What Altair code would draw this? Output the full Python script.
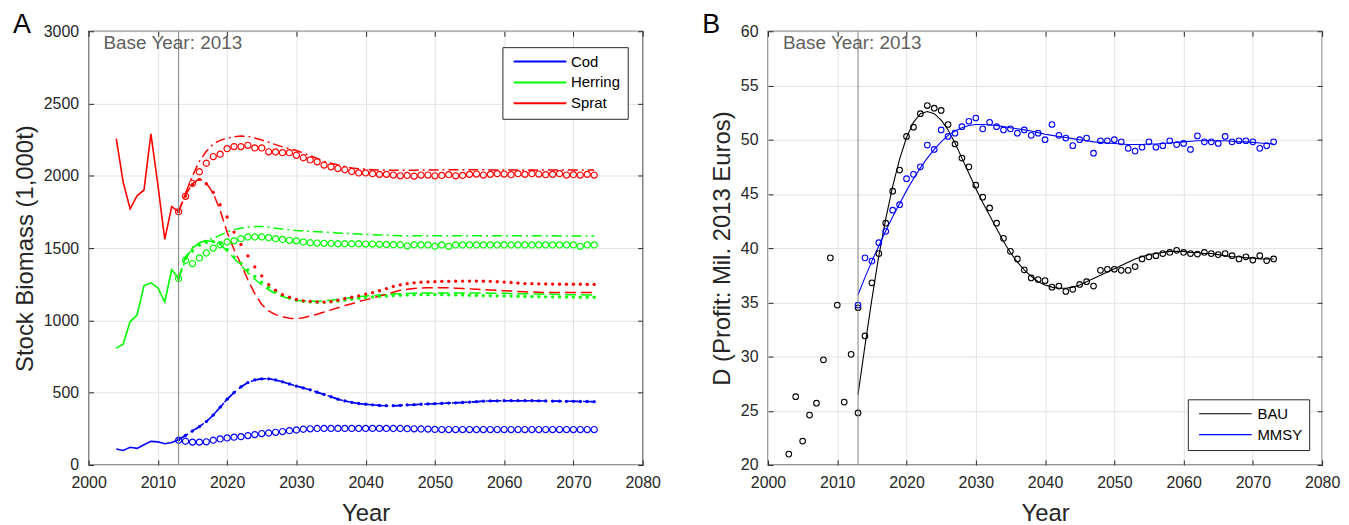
import altair as alt
import pandas as pd

FONT = "Liberation Sans"
W, H = 557, 436
AX = "#262626"
GRID = "#e2e2e2"

# ---------------- Panel A data ----------------
species_names = ["Cod", "Herring", "Sprat"]
species_colors = ["#0000ff", "#00ff00", "#ff0000"]

years_hist = list(range(2004, 2014))
cod_hist = [110, 100, 122, 115, 140, 163, 160, 147, 155, 175]
herring_hist = [808, 836, 992, 1037, 1239, 1260, 1226, 1129, 1351, 1290]
sprat_hist = [2257, 1955, 1771, 1862, 1902, 2290, 1940, 1560, 1787, 1752]

years_proj = list(range(2013, 2074))

sprat_circ = [1752, 1858, 1948, 2028, 2087, 2133, 2150, 2188, 2202, 2202,
              2211, 2193, 2193, 2166, 2165, 2160, 2160, 2142, 2125, 2110,
              2097, 2074, 2062, 2050, 2042, 2030, 2020, 2020, 2015, 2010,
              2010, 2005, 2000, 2003, 1998, 2005, 2005, 2000, 2003, 2008,
              2000, 2003, 2010, 2012, 2005, 2010, 2015, 2012, 2008, 2015,
              2010, 2015, 2012, 2008, 2010, 2015, 2005, 2008, 2005, 2010, 2005]
sprat_dashdot = [1752, 1880, 2000, 2100, 2170, 2220, 2245, 2260, 2270, 2275,
                 2272, 2262, 2248, 2232, 2216, 2200, 2188, 2175, 2158, 2140,
                 2120, 2100, 2087, 2075, 2064, 2055, 2049, 2045, 2042, 2040,
                 2039, 2038, 2038, 2038, 2039, 2040, 2040, 2041, 2041, 2042,
                 2042, 2042, 2042, 2042, 2042, 2041, 2041, 2041, 2040, 2040,
                 2040, 2040, 2040, 2040, 2040, 2040, 2040, 2040, 2040, 2040, 2040]
sprat_dash = [1752, 1870, 1945, 1980, 1950, 1880, 1760, 1610, 1490, 1390,
              1280, 1185, 1110, 1065, 1040, 1025, 1015, 1012, 1018, 1030,
              1042, 1058, 1073, 1088, 1103, 1115, 1130, 1142, 1155, 1168,
              1180, 1195, 1208, 1215, 1220, 1224, 1225, 1226, 1226, 1225,
              1223, 1220, 1218, 1215, 1213, 1210, 1208, 1205, 1203, 1200,
              1198, 1196, 1195, 1193, 1193, 1193, 1193, 1193, 1193, 1193, 1193]
sprat_dot = [1752, 1860, 1940, 1975, 1945, 1886, 1800, 1715, 1611, 1525,
             1446, 1370, 1308, 1248, 1209, 1178, 1160, 1145, 1135, 1132,
             1128, 1127, 1130, 1140, 1150, 1160, 1170, 1182, 1192, 1205,
             1220, 1235, 1246, 1254, 1260, 1264, 1266, 1268, 1270, 1270,
             1271, 1272, 1272, 1272, 1271, 1270, 1268, 1265, 1262, 1258,
             1255, 1254, 1253, 1252, 1251, 1250, 1250, 1250, 1250, 1249, 1249]

herring_circ = [1290, 1416, 1393, 1432, 1466, 1500, 1523, 1542, 1550, 1565,
                1577, 1577, 1577, 1572, 1565, 1560, 1554, 1550, 1542, 1537,
                1535, 1533, 1532, 1530, 1530, 1530, 1530, 1528, 1528, 1526,
                1525, 1524, 1523, 1516, 1523, 1522, 1522, 1513, 1522, 1512,
                1522, 1522, 1522, 1522, 1522, 1522, 1522, 1522, 1522, 1522,
                1522, 1522, 1522, 1522, 1522, 1522, 1522, 1522, 1512, 1522, 1522]
herring_dashdot = [1290, 1420, 1507, 1535, 1555, 1568, 1590, 1611, 1628, 1638,
                   1645, 1649, 1649, 1645, 1638, 1632, 1627, 1622, 1619, 1616,
                   1613, 1611, 1608, 1605, 1602, 1600, 1597, 1595, 1593, 1591,
                   1589, 1587, 1586, 1585, 1585, 1585, 1585, 1585, 1585, 1585,
                   1585, 1585, 1585, 1585, 1585, 1585, 1585, 1585, 1585, 1585,
                   1585, 1585, 1585, 1585, 1585, 1584, 1584, 1584, 1584, 1584, 1584]
herring_dash = [1290, 1440, 1500, 1535, 1550, 1545, 1525, 1480, 1430, 1380,
                1330, 1285, 1245, 1212, 1185, 1165, 1150, 1140, 1135, 1133,
                1133, 1135, 1140, 1146, 1152, 1158, 1163, 1168, 1172, 1176,
                1179, 1182, 1184, 1186, 1188, 1189, 1190, 1190, 1190, 1190,
                1190, 1190, 1190, 1189, 1189, 1188, 1188, 1187, 1186, 1185,
                1184, 1183, 1182, 1181, 1180, 1179, 1178, 1178, 1177, 1176, 1176]
herring_dot = [1290, 1430, 1480, 1520, 1540, 1545, 1530, 1490, 1440, 1395,
               1350, 1305, 1265, 1230, 1200, 1175, 1155, 1140, 1132, 1127,
               1125, 1125, 1128, 1133, 1140, 1147, 1153, 1158, 1162, 1166,
               1169, 1172, 1174, 1176, 1177, 1178, 1178, 1178, 1178, 1177,
               1176, 1175, 1174, 1173, 1172, 1171, 1170, 1169, 1168, 1167,
               1166, 1165, 1164, 1163, 1162, 1162, 1161, 1161, 1160, 1160, 1160]

cod_circ = [171, 164, 158, 158, 160, 171, 180, 187, 192, 196,
            203, 210, 217, 221, 226, 231, 237, 242, 247, 250,
            252, 253, 253, 253, 253, 253, 253, 253, 253, 253,
            253, 252, 252, 251, 250, 249, 248, 246, 245, 245,
            245, 245, 245, 245, 245, 245, 245, 245, 245, 245,
            245, 245, 245, 245, 245, 245, 245, 245, 245, 245, 245]
cod_proj = [176, 205, 235, 265, 300, 345, 400, 455, 500, 540,
            570, 588, 596, 596, 588, 575, 560, 546, 533, 520,
            503, 488, 472, 455, 443, 433, 425, 420, 416, 412,
            410, 410, 412, 415, 417, 420, 422, 424, 426, 428,
            430, 432, 435, 438, 441, 443, 444, 445, 445, 445,
            445, 445, 444, 443, 442, 441, 440, 440, 439, 439, 438]

# ---------------- Panel B data ----------------
scen_names = ["BAU", "MMSY"]
scen_colors = ["#000000", "#0000ff"]

years_bau_hist = list(range(2003, 2014))
bau_hist = [21.0, 26.3, 22.2, 24.6, 25.7, 29.7, 39.1, 34.75, 25.8, 30.2, 24.8]
bau_circ = [34.5, 31.9, 36.8, 39.5, 42.3, 45.25, 47.2, 50.3, 51.15, 52.4,
            53.15, 52.9, 52.7, 51.4, 49.6, 48.3, 47.5, 45.8, 44.7, 43.7,
            42.3, 40.9, 39.7, 39.0, 38.0, 37.25, 37.1, 37.0, 36.4, 36.5,
            36.0, 36.2, 36.65, 36.9, 36.5, 37.95, 38.05, 38.05, 37.95, 37.95,
            38.3, 39.0, 39.2, 39.3, 39.5, 39.6, 39.8, 39.6, 39.5, 39.45,
            39.6, 39.5, 39.4, 39.5, 39.3, 39.0, 39.2, 38.9, 39.3, 38.85, 39.0]
mmsy_circ = [34.75, 39.1, 38.8, 40.5, 41.55, 43.5, 44.0, 46.4, 46.8, 47.5,
             49.5, 49.1, 50.9, 50.3, 50.6, 51.2, 51.7, 52.0, 51.0, 51.6,
             51.2, 50.9, 51.0, 50.6, 50.9, 50.4, 50.6, 50.0, 51.4, 50.4,
             50.15, 49.45, 50.0, 50.15, 48.75, 49.9, 49.9, 50.0, 49.8, 49.2,
             48.95, 49.3, 49.8, 49.3, 49.45, 49.9, 49.55, 49.65, 49.1, 50.35,
             49.8, 49.8, 49.65, 50.3, 49.8, 49.9, 49.9, 49.8, 49.2, 49.45, 49.8]
bau_line = [26.5, 31.0, 35.3, 39.3, 42.7, 45.7, 48.2, 50.2, 51.6, 52.4,
            52.6, 52.4, 51.8, 50.9, 49.7, 48.3, 46.9, 45.5, 44.2, 43.0,
            41.8, 40.6, 39.6, 38.7, 38.0, 37.4, 36.9, 36.6, 36.4, 36.3,
            36.3, 36.4, 36.6, 36.9, 37.2, 37.5, 37.8, 38.1, 38.4, 38.7,
            39.0, 39.2, 39.4, 39.5, 39.6, 39.7, 39.7, 39.7, 39.6, 39.6,
            39.5, 39.5, 39.4, 39.3, 39.2, 39.2, 39.1, 39.1, 39.0, 39.0, 39.0]
mmsy_line = [35.7, 37.3, 38.8, 40.2, 41.6, 42.9, 44.1, 45.3, 46.4, 47.4,
             48.3, 49.1, 49.8, 50.4, 50.8, 51.1, 51.3, 51.4, 51.4, 51.35,
             51.3, 51.2, 51.1, 51.0, 50.9, 50.8, 50.65, 50.5, 50.4, 50.3,
             50.2, 50.1, 50.0, 49.9, 49.8, 49.75, 49.7, 49.65, 49.6, 49.55,
             49.55, 49.55, 49.6, 49.6, 49.65, 49.7, 49.75, 49.8, 49.85, 49.9,
             49.9, 49.9, 49.9, 49.9, 49.85, 49.8, 49.8, 49.75, 49.7, 49.65, 49.6]

x_ticks = list(range(2000, 2081, 10))
ya_ticks = list(range(0, 3001, 500))
yb_ticks = list(range(20, 61, 5))
base_year = 2013
base_label = "Base Year: 2013"


def series(years, values, name, key):
    if len(years) != len(values):
        raise ValueError(f"length mismatch for {name}")
    return pd.DataFrame({"year": years, "value": values, key: name})


def xenc(axis=None):
    return alt.X("year:Q", scale=alt.Scale(domain=[2000, 2080], nice=False, zero=False), axis=axis)


def yenc(domain, axis=None):
    return alt.Y("value:Q", scale=alt.Scale(domain=domain, nice=False, zero=False), axis=axis)


def main_x_axis():
    return alt.Axis(values=x_ticks, format="d", title="Year", grid=True, gridColor=GRID,
                    gridWidth=1, domain=False, ticks=True, tickSize=5, tickColor=AX,
                    offset=-5, labelPadding=10, labelFlush=False, labelFont=FONT,
                    labelFontSize=16, labelColor=AX, titleFont=FONT, titleFontSize=24,
                    titleFontWeight="normal", titleColor=AX, titlePadding=11)


def main_y_axis(ticks, title):
    return alt.Axis(values=ticks, format="d", title=title, grid=True, gridColor=GRID,
                    gridWidth=1, domain=False, ticks=True, tickSize=5, tickColor=AX,
                    offset=-5, labelPadding=10, labelFlush=False, labelFont=FONT,
                    labelFontSize=16, labelColor=AX, titleFont=FONT, titleFontSize=24,
                    titleFontWeight="normal", titleColor=AX, titlePadding=6)


def extra_axis(orient, ticks):
    return alt.Axis(orient=orient, values=ticks, labels=False, ticks=True, tickSize=5,
                    tickColor=AX, domain=False, grid=False, title=None, offset=-5)


def legend(x, y, label_offset, stroke_w):
    return alt.Legend(title=None, orient="none", legendX=x, legendY=y, direction="vertical",
                      strokeColor=AX, fillColor="white", padding=7,
                      symbolType="M-0.6,0H9.4", symbolSize=112, symbolStrokeWidth=stroke_w,
                      labelFont=FONT, labelFontSize=15, labelColor="black",
                      labelOffset=label_offset, rowPadding=5)


def text_layers(letter, letter_x):
    lab = pd.DataFrame({"label": [base_label]})
    let = pd.DataFrame({"label": [letter]})
    rule = alt.Chart(pd.DataFrame({"year": [base_year]})).mark_rule(
        color="#808080", strokeWidth=1).encode(x=xenc())
    t1 = alt.Chart(lab).mark_text(align="left", baseline="alphabetic", font=FONT,
                                  fontSize=19, color="#5f5f5f").encode(
        x=alt.value(15), y=alt.value(18), text="label:N")
    t2 = alt.Chart(let).mark_text(align="left", baseline="alphabetic", font=FONT,
                                  fontSize=27, color="black").encode(
        x=alt.value(letter_x), y=alt.value(1.5), text="label:N")
    return rule, t1, t2


# ---------------- Panel A ----------------
hist_a = pd.concat([series(years_hist, v, n, "species") for v, n in
                    zip([cod_hist, herring_hist, sprat_hist], species_names)])
circ_a = pd.concat([series(years_proj, v, n, "species") for v, n in
                    zip([cod_circ, herring_circ, sprat_circ], species_names)])
dot_a = pd.concat([series(years_proj, v, n, "species") for v, n in
                   zip([cod_proj, herring_dot, sprat_dot], species_names)])
dash_a = pd.concat([series(years_proj, v, n, "species") for v, n in
                    zip([cod_proj, herring_dash, sprat_dash], species_names)])
dd_a = pd.concat([series(years_proj, v, n, "species") for v, n in
                  zip([cod_proj, herring_dashdot, sprat_dashdot], species_names)])

col_a = alt.Scale(domain=species_names, range=species_colors)
YA = [0, 3000]

a_hist = alt.Chart(hist_a).mark_line(strokeWidth=1.6).encode(
    x=xenc(main_x_axis()), y=yenc(YA, main_y_axis(ya_ticks, "Stock Biomass (1,000t)")),
    color=alt.Color("species:N", scale=col_a, legend=legend(416, 16, 47, 2)))
a_dd = alt.Chart(dd_a).mark_line(strokeWidth=1.5, strokeDash=[10, 4, 2, 4]).encode(
    x=xenc(), y=yenc(YA), color=alt.Color("species:N", scale=col_a, legend=None))
a_dash = alt.Chart(dash_a).mark_line(strokeWidth=1.5, strokeDash=[11, 5]).encode(
    x=xenc(), y=yenc(YA), color=alt.Color("species:N", scale=col_a, legend=None))
a_dot = alt.Chart(dot_a).mark_circle(size=11, opacity=1).encode(
    x=xenc(), y=yenc(YA), color=alt.Color("species:N", scale=col_a, legend=None))
a_circ = alt.Chart(circ_a).mark_point(shape="circle", filled=False, size=38,
                                      strokeWidth=1.2, opacity=1).encode(
    x=xenc(extra_axis("top", x_ticks)), y=yenc(YA, extra_axis("right", ya_ticks)),
    color=alt.Color("species:N", scale=col_a, legend=None))
ra, ta1, ta2 = text_layers("A", -76)

chart_a = alt.layer(a_hist, a_dd, a_dash, a_dot, a_circ, ra, ta1, ta2).resolve_axis(
    x="independent", y="independent").properties(width=W, height=H)

# ---------------- Panel B ----------------
circ_b = pd.concat([
    series(years_bau_hist, bau_hist, "BAU", "scenario"),
    series(years_proj, bau_circ, "BAU", "scenario"),
    series(years_proj, mmsy_circ, "MMSY", "scenario"),
])
line_b = pd.concat([
    series(years_proj, bau_line, "BAU", "scenario"),
    series(years_proj, mmsy_line, "MMSY", "scenario"),
])
col_b = alt.Scale(domain=scen_names, range=scen_colors)
YB = [20, 60]

b_line = alt.Chart(line_b).mark_line(strokeWidth=1.1).encode(
    x=xenc(main_x_axis()), y=yenc(YB, main_y_axis(yb_ticks, "D (Profit: Mil. 2013 Euros)")),
    color=alt.Color("scenario:N", scale=col_b, legend=legend(422, 370, 48, 1.2)))
b_circ = alt.Chart(circ_b).mark_point(shape="circle", filled=False, size=32,
                                      strokeWidth=1.1, opacity=1).encode(
    x=xenc(extra_axis("top", x_ticks)), y=yenc(YB, extra_axis("right", yb_ticks)),
    color=alt.Color("scenario:N", scale=col_b, legend=None))
rb, tb1, tb2 = text_layers("B", -66)

chart_b = alt.layer(b_line, b_circ, rb, tb1, tb2).resolve_axis(
    x="independent", y="independent").properties(width=W, height=H)

chart = alt.hconcat(chart_a, chart_b, spacing=40).resolve_scale(
    color="independent").resolve_legend(color="independent").configure_view(
    stroke=AX, strokeWidth=1.3).properties(
    padding={"left": 4, "top": 0, "right": 0, "bottom": 0}, background="white")

chart.save("out.html", embed_options={"renderer": "svg", "actions": False})
